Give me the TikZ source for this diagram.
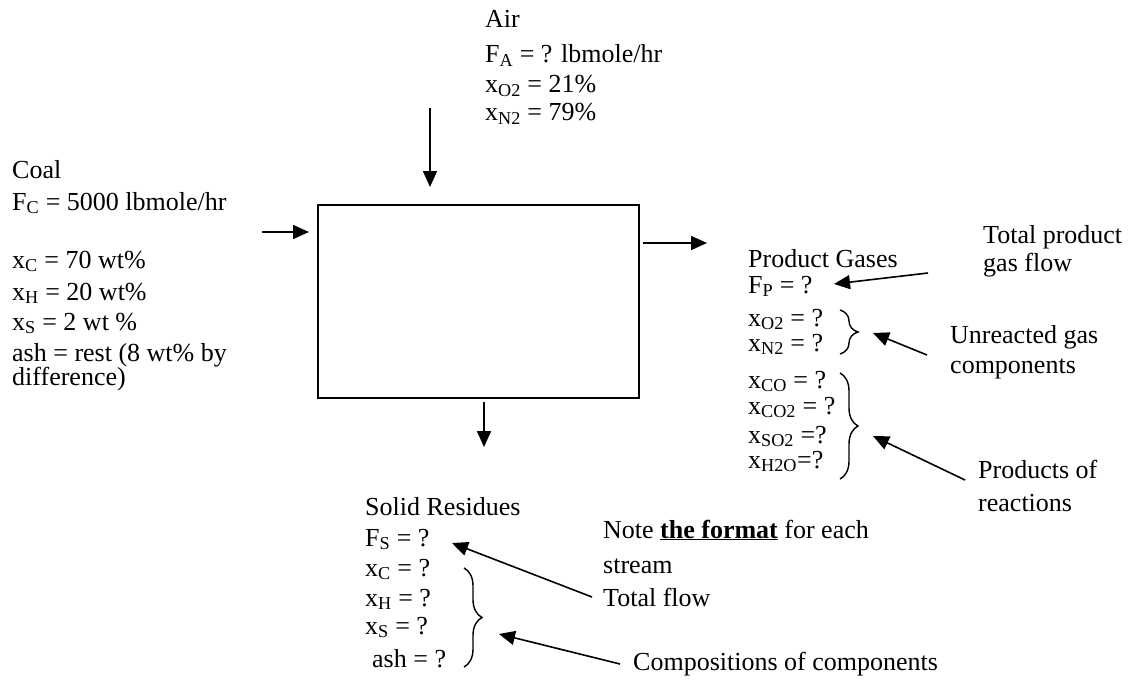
\documentclass[tikz,border=0pt]{standalone}
\usepackage{fontspec}
\setmainfont{Liberation Serif}
\usetikzlibrary{arrows.meta,decorations.pathreplacing}
\newcommand\sbs[1]{\textsubscript{#1}}
\begin{document}
\begin{tikzpicture}[x=1pt,y=-1pt,
  txt/.style={anchor=base west,inner sep=0pt,font=\fontsize{26}{30}\selectfont},
  arr/.style={-{Triangle[length=16pt,width=14pt]},line width=1.6pt},
  brc/.style={decorate,decoration={brace,amplitude=18pt},line width=1.4pt},
  unit/.style={draw,line width=1.6pt,minimum width=321pt,minimum height=193pt,inner sep=0pt}]
\useasboundingbox (0,0) rectangle (1132,682);
\fill[white] (0,0) rectangle (1132,682);

% reactor box
\node[unit] (reactor) at (478.5,301.5) {};

% Air stream
\node[txt] (air1) at (485,28) {Air};
\node[txt] (air2) at (485,63) {F\sbs{A} = ? lbmole/hr};
\node[txt] (air3) at (485,93) {x\sbs{O2} = 21\%};
\node[txt] (air4) at (485,121) {x\sbs{N2} = 79\%};
\coordinate (airS) at (430,108);
\coordinate (airE) at (430,187);
\draw[arr] (airS) -- (airE);

% Coal stream
\node[txt] (coal1) at (12,178) {Coal};
\node[txt] (coal2) at (12,210) {F\sbs{C} = 5000 lbmole/hr};
\node[txt] (coal3) at (12,268) {x\sbs{C} = 70 wt\%};
\node[txt] (coal4) at (12,300) {x\sbs{H} = 20 wt\%};
\node[txt] (coal5) at (12,330) {x\sbs{S} = 2 wt \%};
\node[txt] (coal6) at (12,361) {ash = rest (8 wt\% by};
\node[txt] (coal7) at (12,385) {difference)};
\coordinate (coalS) at (262,232);
\coordinate (coalE) at (309,232);
\draw[arr] (coalS) -- (coalE);

% Product gas stream
\coordinate (outS) at (643,243);
\coordinate (outE) at (707,243);
\draw[arr] (outS) -- (outE);
\node[txt] (pg1) at (748,267) {Product Gases};
\node[txt] (pg2) at (748,293) {F\sbs{P} = ?};
\node[txt] (pg3) at (748,326) {x\sbs{O2} = ?};
\node[txt] (pg4) at (748,351) {x\sbs{N2} = ?};
\node[txt] (pg5) at (748,388) {x\sbs{CO} = ?};
\node[txt] (pg6) at (748,414) {x\sbs{CO2} = ?};
\node[txt] (pg7) at (748,443) {x\sbs{SO2} =?};
\node[txt] (pg8) at (748,468) {x\sbs{H2O}=?};

\coordinate (b1t) at (840,310);
\coordinate (b1b) at (840,354);
\draw[brc] (b1t) -- (b1b);
\coordinate (b2t) at (840,373);
\coordinate (b2b) at (840,479);
\draw[brc] (b2t) -- (b2b);

\node[txt] (tp1) at (983,243) {Total product};
\node[txt] (tp2) at (983,271) {gas flow};
\coordinate (tpS) at (928,273);
\coordinate (tpE) at (834,284);
\draw[arr] (tpS) -- (tpE);

\node[txt] (ug1) at (950,343) {Unreacted gas};
\node[txt] (ug2) at (950,373) {components};
\coordinate (ugS) at (927,355);
\coordinate (ugE) at (873,333);
\draw[arr] (ugS) -- (ugE);

\node[txt] (pr1) at (978,478) {Products of};
\node[txt] (pr2) at (978,511) {reactions};
\coordinate (prS) at (965,480);
\coordinate (prE) at (873,436);
\draw[arr] (prS) -- (prE);

% Solid residues stream
\coordinate (botS) at (484,402);
\coordinate (botE) at (484,447);
\draw[arr] (botS) -- (botE);
\node[txt] (sr1) at (365,515) {Solid Residues};
\node[txt] (sr2) at (365,546) {F\sbs{S} = ?};
\node[txt] (sr3) at (365,576) {x\sbs{C} = ?};
\node[txt] (sr4) at (365,606) {x\sbs{H} = ?};
\node[txt] (sr5) at (365,634) {x\sbs{S} = ?};
\node[txt] (sr6) at (372,667) {ash = ?};
\coordinate (b3t) at (464,568);
\coordinate (b3b) at (464,667);
\draw[brc] (b3t) -- (b3b);

\node[txt] (nt1) at (603,538) {Note \underline{\textbf{the format}} for each};
\node[txt] (nt2) at (603,573) {stream};
\node[txt] (nt3) at (603,606) {Total flow};
\coordinate (tfS) at (592,597);
\coordinate (tfE) at (452,543);
\draw[arr] (tfS) -- (tfE);

\node[txt] (cc1) at (633,670) {Compositions of components};
\coordinate (ccS) at (620,664);
\coordinate (ccE) at (499,634);
\draw[arr] (ccS) -- (ccE);
\end{tikzpicture}
\end{document}
